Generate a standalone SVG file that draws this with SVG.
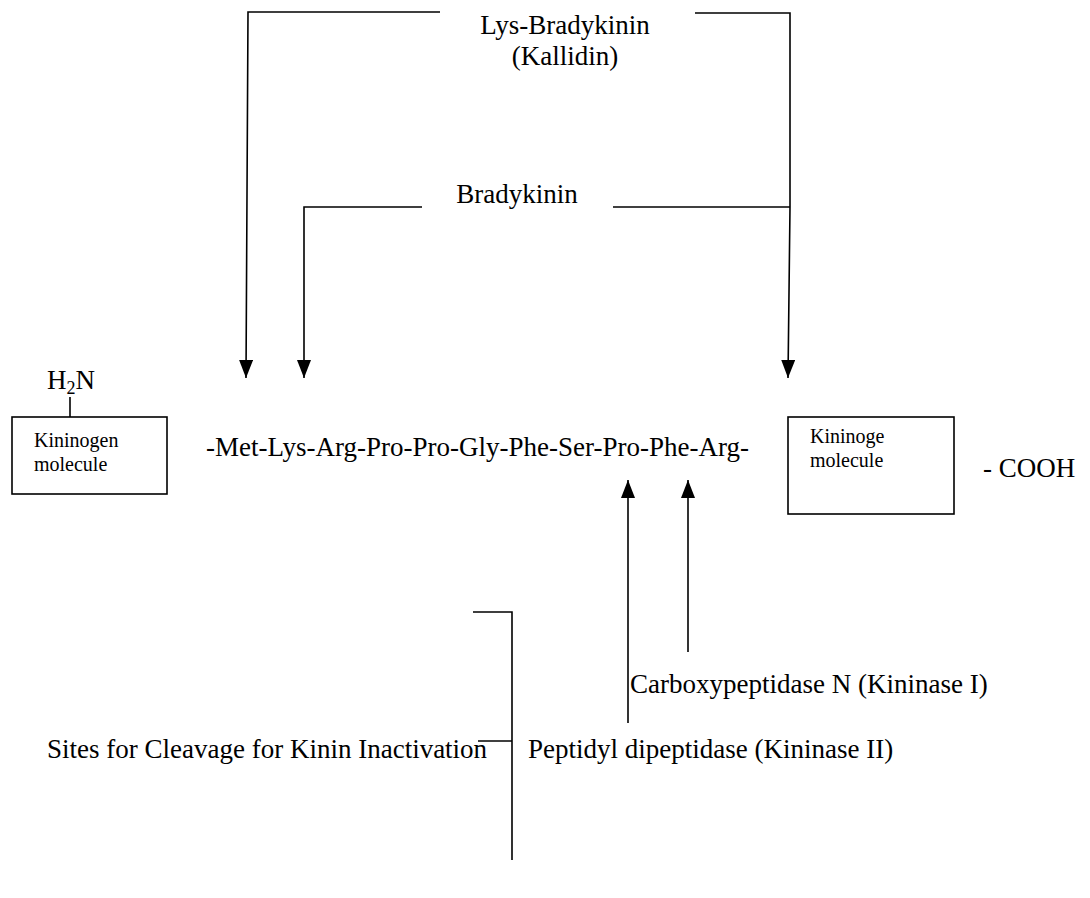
<svg xmlns="http://www.w3.org/2000/svg" width="1090" height="898" viewBox="0 0 1090 898">
<style>
  text { font-family: "Liberation Serif", "Times New Roman", serif; fill: #000; }
  .t { font-size: 27px; }
  .s { font-size: 20px; }
  .ln { stroke: #000; stroke-width: 1.6; fill: none; }
  .box { stroke: #000; stroke-width: 1.6; fill: #fff; }
</style>
<defs>
  <marker id="arr" viewBox="0 0 18 14" refX="18" refY="7" markerWidth="18" markerHeight="14" markerUnits="userSpaceOnUse" orient="auto">
    <path d="M0,0 L18,7 L0,14 Z" fill="#000"/>
  </marker>
</defs>
<rect width="1090" height="898" fill="#fff"/>

<g id="connectors">
  <polyline class="ln" points="440,12 248,12 246,378" marker-end="url(#arr)"/>
  <polyline class="ln" points="695,13 790,13 790,207 788,378" marker-end="url(#arr)"/>
  <line class="ln" x1="613" y1="207" x2="790" y2="207"/>
  <polyline class="ln" points="422,207 304,207 304,378" marker-end="url(#arr)"/>
  <line class="ln" x1="70" y1="397" x2="70" y2="417"/>
  <line class="ln" x1="628" y1="723" x2="628" y2="480" marker-end="url(#arr)"/>
  <line class="ln" x1="688" y1="652" x2="688" y2="480" marker-end="url(#arr)"/>
  <polyline class="ln" points="473,612 512,612 512,860"/>
  <line class="ln" x1="478" y1="741" x2="512" y2="741"/>
</g>

<g id="lys-bradykinin">
  <text class="t" x="565" y="34" text-anchor="middle">Lys-Bradykinin</text>
  <text class="t" x="565" y="65" text-anchor="middle">(Kallidin)</text>
</g>
<g id="bradykinin">
  <text class="t" x="517" y="203" text-anchor="middle">Bradykinin</text>
</g>
<g id="h2n">
  <text class="t" x="47" y="389">H<tspan font-size="18" dy="5">2</tspan><tspan dy="-5">N</tspan></text>
</g>
<g id="kininogen-left">
  <rect class="box" x="12" y="417" width="155" height="77"/>
  <text class="s" x="34" y="447">Kininogen</text>
  <text class="s" x="34" y="471">molecule</text>
</g>
<g id="peptide">
  <text class="t" x="206" y="456">-Met-Lys-Arg-Pro-Pro-Gly-Phe-Ser-Pro-Phe-Arg-</text>
</g>
<g id="kininogen-right">
  <rect class="box" x="788" y="417" width="166" height="97"/>
  <text class="s" x="810" y="443">Kininoge</text>
  <text class="s" x="810" y="467">molecule</text>
</g>
<g id="cooh">
  <text class="t" x="983" y="477">- COOH</text>
</g>
<g id="carboxypeptidase">
  <text class="t" x="630" y="693">Carboxypeptidase N (Kininase I)</text>
</g>
<g id="sites">
  <text class="t" x="47" y="758">Sites for Cleavage for Kinin Inactivation</text>
</g>
<g id="peptidyl">
  <text class="t" x="528" y="758">Peptidyl dipeptidase (Kininase II)</text>
</g>
</svg>
